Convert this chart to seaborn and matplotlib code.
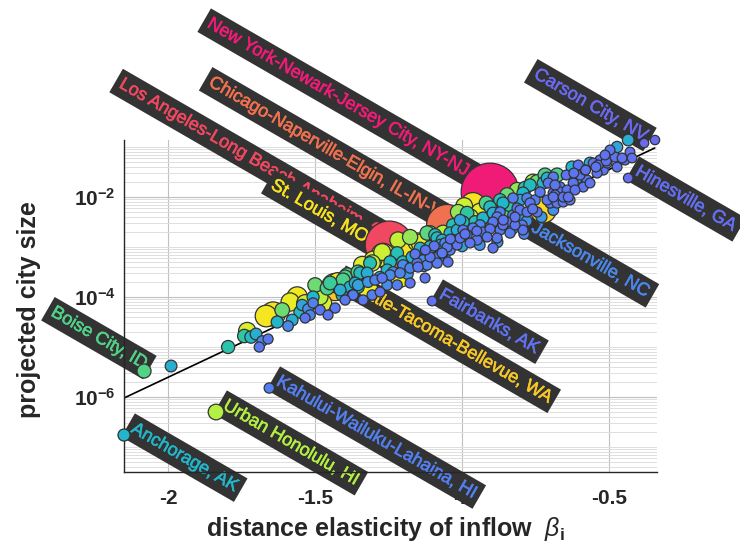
import numpy as np
import pandas as pd
import matplotlib
matplotlib.use("Agg")
import matplotlib.pyplot as plt
import matplotlib.patheffects as pe
import seaborn as sns
from matplotlib.colors import LinearSegmentedColormap, LogNorm
from matplotlib.ticker import FixedLocator, LogLocator, NullFormatter, FixedFormatter

# ---------------- data ----------------
# labelled metro areas
city_names = ["New York-Newark-Jersey City, NY-NJ-PA", "Los Angeles-Long Beach-Anaheim, CA",
              "Chicago-Naperville-Elgin, IL-IN-WI", "St. Louis, MO-IL", "Boise City, ID",
              "Carson City, NV", "Seattle-Tacoma-Bellevue, WA", "Fairbanks, AK",
              "Jacksonville, NC", "Hinesville, GA", "Anchorage, AK", "Urban Honolulu, HI",
              "Kahului-Wailuku-Lahaina, HI"]
city_beta = [-0.905, -1.248, -1.051, -1.269, -2.082, -0.381, -1.432, -1.102,
             -0.789, -0.435, -2.150, -1.837, -1.656]
city_log_size = [-1.90, -2.96, -2.56, -3.16, -5.48, -0.92, -3.80, -4.08,
                 -2.74, -1.62, -6.76, -6.30, -5.82]
city_pop = [19.2, 13.1, 9.5, 2.8, 0.71, 0.055, 3.9, 0.10, 0.19, 0.08, 0.40, 0.99, 0.165]
city_side = ["above", "above", "above", "above", "above", "above", "below", "below",
             "below", "below", "below", "below", "below"]

# all other metro areas
beta = [-1.990, -1.796, -1.731, -1.741, -1.718, -1.701, -1.690, -1.680, -1.660, -1.643,
        -1.667, -1.612, -1.629, -1.592, -1.578, -1.561, -1.585, -1.551, -1.544, -1.534,
        -1.517, -1.524, -1.500, -1.507, -1.483, -1.507, -1.483, -1.459, -1.449, -1.422,
        -1.473, -1.408, -1.432, -1.374, -1.398, -1.391, -1.364, -1.354, -1.347, -1.323,
        -1.313, -1.337, -1.306, -1.340, -1.303, -1.201, -1.272, -1.153, -1.211, -1.245,
        -1.221, -1.255, -1.296, -1.272, -1.255, -1.221, -1.177, -1.153, -1.133, -1.109,
        -1.085, -1.065, -1.201, -1.170, -1.143, -1.109, -1.085, -1.109, -1.065, -1.306,
        -1.354, -1.143, -1.143, -1.119, -1.092, -1.150, -1.119, -1.092, -1.068, -1.048,
        -1.041, -1.058, -1.017, -1.041, -1.068, -1.245, -1.211, -1.201, -1.405, -1.381,
        -1.415, -1.354, -1.371, -1.320, -0.963, -0.939, -0.973, -0.905, -0.861, -0.837,
        -0.847, -0.881, -0.847, -0.827, -0.803, -0.871, -0.905, -0.939, -0.963, -0.997,
        -0.915, -0.881, -0.837, -0.796, -0.803, -0.997, -1.017, -0.724, -0.745, -0.759,
        -0.769, -0.793, -0.735, -0.707, -0.690, -0.711, -0.667, -0.656, -0.677, -0.752,
        -0.769, -0.779, -0.745, -0.895, -0.793, -1.007, -0.983, -0.973, -0.949, -0.929,
        -0.895, -0.871, -0.861, -0.820, -0.813, -0.779, -0.827, -0.803, -0.895, -0.929,
        -0.956, -0.983, -1.007, -1.024, -1.051, -1.075, -1.031, -1.014, -0.993, -0.918,
        -0.871, -0.847, -0.813, -0.786, -0.718, -0.701, -0.626, -0.575, -0.541, -0.531,
        -0.554, -0.507, -0.520, -0.565, -0.622, -0.643, -0.667, -0.684, -0.633, -0.599,
        -0.588, -0.724, -0.711, -0.690, -0.684, -0.656, -0.701, -0.677, -0.473, -0.435,
        -0.344, -0.480, -0.456, -0.429, -0.422, -0.446, -0.473, -0.537, -0.616, -0.639,
        -0.690, -0.565, -0.497, -0.514, -0.582, -0.605, -0.646, -0.609, -1.456, -1.398,
        -1.534, -1.279, -1.177, -1.126, -1.177, -1.218,
        -1.160, -1.125, -1.095, -1.040, -0.990, -0.950, -0.905, -0.860, -0.820, -0.760,
        -1.190, -1.130, -1.060, -1.000, -0.940, -0.880, -0.830, -0.780, -0.730, -0.690,
        -1.320, -1.280, -1.235, -1.185, -0.620, -0.580, -0.545, -0.510]
log_size = [-5.38, -5.00, -4.68, -4.78, -4.80, -4.74, -5.00, -4.88, -4.84, -4.34,
            -4.38, -4.26, -4.50, -4.58, -4.46, -4.00, -4.10, -4.30, -4.16, -4.12,
            -4.36, -4.24, -3.76, -4.00, -4.00, -4.12, -4.26, -3.82, -3.72, -3.72,
            -4.12, -3.96, -4.22, -3.96, -3.60, -3.56, -3.72, -3.76, -3.52, -3.52,
            -3.32, -4.06, -3.96, -3.36, -3.26, -3.00, -3.10, -2.90, -3.62, -3.30,
            -3.12, -3.46, -3.66, -3.62, -3.76, -3.76, -3.42, -3.32, -3.26, -3.20,
            -3.32, -3.12, -3.30, -3.20, -3.02, -3.00, -2.82, -2.72, -2.72, -3.32,
            -3.50, -2.92, -3.16, -2.72, -2.76, -3.40, -3.36, -3.22, -3.12, -3.30,
            -3.06, -2.92, -2.96, -2.72, -2.86, -3.56, -3.52, -3.36, -3.66, -3.80,
            -3.86, -3.80, -3.96, -3.84, -2.16, -2.30, -2.40, -2.20, -2.12, -2.16,
            -2.26, -2.40, -2.50, -2.36, -2.26, -2.66, -2.60, -2.56, -2.62, -2.66,
            -2.80, -2.82, -2.72, -2.56, -2.42, -2.50, -2.66, -2.26, -1.70, -1.70,
            -1.76, -1.92, -1.90, -1.72, -1.92, -2.06, -1.80, -2.00, -2.12, -2.06,
            -2.12, -2.02, -2.30, -3.02, -2.66, -2.82, -2.76, -2.92, -2.86, -2.70,
            -2.50, -2.30, -2.56, -2.56, -2.22, -2.30, -2.02, -2.06, -2.32, -2.42,
            -2.50, -2.32, -2.46, -2.86, -3.00, -2.96, -2.56, -2.30, -2.18, -2.12,
            -2.06, -1.96, -1.86, -1.82, -1.56, -1.66, -1.40, -1.66, -1.52, -1.26,
            -1.32, -1.32, -1.46, -1.32, -1.72, -1.86, -1.90, -1.96, -2.06, -1.56,
            -1.80, -1.72, -1.62, -1.60, -1.76, -2.10, -2.12, -1.56, -1.00, -0.86,
            -0.86, -1.20, -1.22, -1.10, -1.22, -1.26, -1.40, -1.36, -1.86, -2.00,
            -2.00, -1.72, -1.06, -1.16, -1.46, -1.36, -1.56, -1.62, -4.36, -4.06,
            -4.42, -3.90, -3.72, -3.62, -2.80, -2.86,
            -3.14, -3.06, -2.98, -2.84, -2.74, -2.68, -2.64, -2.46, -2.40, -2.24,
            -3.48, -3.38, -3.18, -2.98, -2.96, -2.90, -2.64, -2.48, -2.40, -2.26,
            -3.70, -3.60, -3.50, -3.54, -1.52, -1.46, -1.40, -1.28]
pop = [0.35, 0.55, 1.3, 0.6, 0.45, 0.35, 0.15, 0.2, 0.14, 3.0,
       2.3, 0.8, 0.4, 0.2, 0.35, 2.0, 1.5, 0.45, 0.3, 1.2,
       0.18, 0.22, 0.8, 0.4, 1.0, 0.17, 0.15, 0.7, 0.65, 2.1,
       1.3, 0.4, 0.15, 0.18, 0.7, 0.75, 0.35, 0.3, 0.45, 0.35,
       0.5, 0.15, 0.17, 1.3, 1.4, 3.0, 1.2, 1.5, 1.6, 0.45,
       0.5, 0.4, 0.17, 0.15, 0.2, 0.16, 0.18, 0.15, 0.2, 0.14,
       0.16, 0.18, 0.45, 0.4, 0.35, 0.5, 0.45, 0.8, 1.0, 1.1,
       0.7, 1.4, 0.4, 0.75, 0.5, 0.15, 0.17, 0.2, 0.15, 0.13,
       0.16, 0.2, 0.14, 0.4, 0.35, 0.2, 0.18, 0.2, 0.7, 0.4,
       0.35, 0.45, 0.16, 1.7, 3.2, 1.4, 1.1, 0.45, 0.4, 0.6,
       0.7, 0.16, 0.15, 0.18, 0.14, 0.15, 0.17, 0.2, 0.16, 0.15,
       0.13, 0.14, 0.16, 0.15, 0.4, 0.45, 0.35, 3.5, 0.8, 1.0,
       0.45, 0.4, 0.15, 0.14, 0.16, 0.13, 0.15, 0.12, 0.14, 0.17,
       0.15, 0.18, 0.14, 0.12, 0.13, 0.13, 0.15, 0.12, 0.14, 0.15,
       0.14, 0.17, 0.13, 0.12, 0.15, 0.14, 0.16, 0.3, 0.35, 0.4,
       0.5, 0.6, 0.3, 0.2, 0.16, 0.3, 0.5, 0.9, 1.2, 0.7,
       0.5, 0.8, 0.9, 0.6, 0.7, 0.5, 0.4, 0.14, 0.13, 0.15,
       0.12, 0.13, 0.14, 0.35, 0.14, 0.13, 0.15, 0.13, 0.12, 0.13,
       0.12, 0.4, 0.35, 0.15, 0.14, 0.13, 0.15, 0.7, 0.3, 0.35,
       0.06, 0.12, 0.11, 0.1, 0.09, 0.12, 0.11, 0.12, 0.12, 0.11,
       0.12, 0.11, 0.12, 0.1, 0.13, 0.12, 0.12, 0.3, 0.13, 0.14,
       0.13, 0.12, 0.13, 0.12, 0.9, 1.1,
       0.13, 0.12, 0.14, 0.12, 0.13, 0.12, 0.14, 0.13, 0.12, 0.13,
       0.25, 0.28, 0.25, 0.3, 0.22, 0.25, 0.28, 0.22, 0.25, 0.22,
       0.25, 0.28, 0.22, 0.25, 0.12, 0.11, 0.12, 0.11]

# fitted power-law line
fit_beta = [-2.15, -0.345]
fit_log_size = [-6.02, -1.02]

x_ticks = [-2, -1.5, -1, -0.5]
x_tick_labels = ["-2", "-1.5", "-1", "-0.5"]
y_ticks = [1e-6, 1e-4, 1e-2]
y_tick_labels = [r"$\mathbf{10^{-6}}$", r"$\mathbf{10^{-4}}$", r"$\mathbf{10^{-2}}$"]

# ---------------- style ----------------
sns.set_style("white")
plt.rcParams["font.family"] = ["Liberation Sans", "DejaVu Sans"]
plt.rcParams["axes.unicode_minus"] = False
plt.rcParams["mathtext.fontset"] = "custom"
plt.rcParams["mathtext.rm"] = "Liberation Sans"
plt.rcParams["mathtext.bf"] = "Liberation Sans:bold"
plt.rcParams["mathtext.it"] = "Liberation Sans:italic"

TXT = "#262626"

df = pd.DataFrame({
    "beta": beta + city_beta,
    "log_size": log_size + city_log_size,
    "pop": pop + city_pop,
})
df["size"] = 10.0 ** df["log_size"]
df = df.sort_values("pop", ascending=False, kind="stable").reset_index(drop=True)

cmap = LinearSegmentedColormap.from_list("city", [
    (0.00, "#6c68f0"), (0.18, "#5a78f0"), (0.27, "#3c98e6"), (0.35, "#20b8c8"),
    (0.42, "#30c8a0"), (0.465, "#70dc70"), (0.50, "#b8f040"), (0.58, "#f0ec20"),
    (0.70, "#f8e020"), (0.76, "#f8b030"), (0.82, "#f89040"), (0.88, "#f07050"),
    (0.93, "#f04860"), (1.00, "#f01878")])
norm = LogNorm(vmin=0.05, vmax=20)

fig = plt.figure(figsize=(7.4, 5.5), dpi=100)
ax = fig.add_axes([0.1676, 0.1418, 0.7203, 0.6036])
ax.set_yscale("log")

sns.scatterplot(data=df, x="beta", y="size", hue="pop", size="pop",
                palette=cmap, hue_norm=norm, sizes=(40, 1730), size_norm=(0, 19.2),
                edgecolor="#333333", linewidth=0.9, alpha=1, legend=False,
                ax=ax, zorder=3, clip_on=False)

sns.lineplot(x=fit_beta, y=10.0 ** np.array(fit_log_size), color="black",
             linewidth=1.2, ax=ax, zorder=2.5)

for name, b, ly, p, side in zip(city_names, city_beta, city_log_size, city_pop, city_side):
    col = cmap(norm(p))
    if side == "above":
        ha, off = "right", (-2, -1)
    else:
        ha, off = "left", (3, 0)
    ax.annotate(name, xy=(b, 10.0 ** ly), xytext=off, textcoords="offset points",
                ha=ha, va="bottom", rotation=-30, rotation_mode="anchor",
                fontsize=13, color=col, zorder=2, annotation_clip=False,
                path_effects=[pe.withStroke(linewidth=0.4, foreground=col)],
                bbox=dict(boxstyle="square,pad=0.28", fc="#333333", ec="none"))

ax.set_xlim(-2.15, -0.337)
ax.set_ylim(10 ** -7.5, 10 ** -0.86)

ax.set_xticks(x_ticks)
ax.set_xticklabels(x_tick_labels)
ax.yaxis.set_major_locator(FixedLocator(y_ticks))
ax.yaxis.set_major_formatter(FixedFormatter(y_tick_labels))
ax.yaxis.set_minor_locator(LogLocator(base=10, subs=np.arange(1, 10), numticks=60))
ax.yaxis.set_minor_formatter(NullFormatter())

ax.tick_params(axis="both", which="major", direction="in", length=6, width=0.8,
               color=TXT, labelsize=15, labelcolor=TXT)
ax.tick_params(axis="y", which="minor", direction="in", length=3.5, width=0.6, color=TXT)
ax.tick_params(axis="x", which="major", pad=12)
ax.tick_params(axis="y", which="major", pad=6)
for lbl in ax.get_xticklabels() + ax.get_yticklabels():
    lbl.set_fontweight("bold")

ax.set_axisbelow(True)
ax.grid(True, which="major", color="#c0c0c0", linewidth=0.8)
ax.grid(True, which="minor", axis="y", color="#dedede", linewidth=0.7)

for s in ["top", "right"]:
    ax.spines[s].set_visible(False)
for s in ["left", "bottom"]:
    ax.spines[s].set_color(TXT)
    ax.spines[s].set_linewidth(1.0)

ax.set_ylabel("projected city size", fontsize=18, fontweight="bold", color=TXT)
ax.yaxis.set_label_coords(-0.155, 0.49)
ax.set_xlabel(r"distance elasticity of inflow  $\mathit{\beta}_{\mathbf{i}}$",
              fontsize=18, fontweight="bold", color=TXT)
ax.xaxis.set_label_coords(0.49, -0.13)

fig.savefig("out.png", dpi=100)
